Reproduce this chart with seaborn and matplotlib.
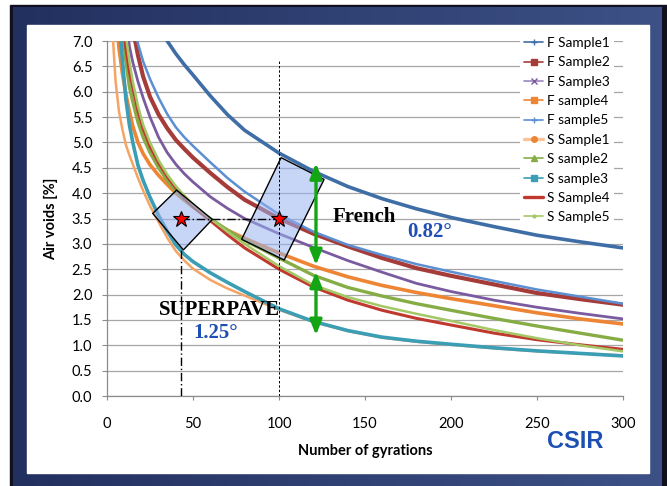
import numpy as np
import pandas as pd
import matplotlib
matplotlib.use('Agg')
import matplotlib.pyplot as plt
import seaborn as sns
from matplotlib.lines import Line2D
from matplotlib.patches import Polygon, Rectangle
from matplotlib.colors import LinearSegmentedColormap

# ---------------- data ----------------
gyrations = [3, 5, 7, 9, 11, 13, 15, 18, 21, 25, 30, 35, 40, 45, 50, 60, 70, 80,
             100, 120, 140, 160, 180, 200, 225, 250, 275, 300]

f_sample1 = [15, 13, 12, 11, 10.5, 10, 9.5, 9, 8.5, 7.9, 7.45, 7.0, 6.75, 6.53, 6.33, 5.92, 5.55, 5.24,
             4.79, 4.43, 4.13, 3.89, 3.69, 3.52, 3.34, 3.17, 3.04, 2.92]
f_sample2 = [14, 12, 10.5, 9.3, 8.5, 7.8, 7.25, 6.72, 6.3, 5.9, 5.55, 5.28, 5.05, 4.87, 4.7, 4.4, 4.12, 3.87,
             3.5, 3.2, 2.95, 2.72, 2.52, 2.37, 2.2, 2.03, 1.91, 1.80]
f_sample3 = [12, 10.2, 9, 8.1, 7.45, 6.9, 6.58, 6.2, 5.88, 5.5, 5.1, 4.8, 4.57, 4.38, 4.22, 3.93, 3.7, 3.5,
             3.2, 2.93, 2.67, 2.44, 2.22, 2.06, 1.89, 1.75, 1.63, 1.52]
f_sample4 = [9.5, 7.6, 6.85, 6.35, 5.95, 5.62, 5.32, 5.0, 4.78, 4.56, 4.35, 4.17, 4.0, 3.86, 3.73, 3.47, 3.27, 3.11,
             2.82, 2.56, 2.35, 2.18, 2.04, 1.92, 1.78, 1.64, 1.52, 1.42]
f_sample5 = [14, 12, 10.5, 9.5, 8.7, 8.1, 7.5, 6.95, 6.6, 6.25, 5.88, 5.56, 5.3, 5.1, 4.93, 4.61, 4.3, 4.03,
             3.58, 3.24, 2.98, 2.78, 2.6, 2.45, 2.27, 2.1, 1.96, 1.82]
s_sample1 = [7.3, 6.2, 5.6, 5.25, 4.95, 4.75, 4.57, 4.3, 4.05, 3.75, 3.43, 3.12, 2.86, 2.67, 2.51, 2.29, 2.12, 1.98,
             1.70, 1.46, 1.28, 1.15, 1.07, 1.01, 0.94, 0.88, 0.84, 0.80]
s_sample2 = [11, 9.2, 8.1, 7.25, 6.6, 6.1, 5.8, 5.4, 5.1, 4.8, 4.5, 4.25, 4.04, 3.87, 3.73, 3.5, 3.27, 3.07,
             2.72, 2.38, 2.14, 1.97, 1.82, 1.69, 1.53, 1.38, 1.24, 1.10]
s_sample3 = [10.5, 8.8, 7.5, 6.6, 5.85, 5.35, 5.0, 4.55, 4.25, 3.92, 3.56, 3.25, 2.98, 2.79, 2.65, 2.43, 2.24, 2.06,
             1.72, 1.47, 1.29, 1.16, 1.08, 1.02, 0.95, 0.89, 0.84, 0.79]
s_sample4 = [11.5, 9.6, 8.4, 7.5, 6.85, 6.4, 6.08, 5.62, 5.27, 4.92, 4.6, 4.33, 4.1, 3.9, 3.74, 3.46, 3.18, 2.92,
             2.5, 2.15, 1.89, 1.69, 1.53, 1.4, 1.24, 1.11, 1.01, 0.92]
s_sample5 = [12, 10, 8.7, 7.8, 7.1, 6.6, 6.2, 5.72, 5.35, 5.0, 4.65, 4.37, 4.14, 3.95, 3.78, 3.5, 3.24, 3.0,
             2.56, 2.19, 1.95, 1.77, 1.62, 1.48, 1.3, 1.14, 1.0, 0.88]

series_names = ['F Sample1', 'F Sample2', 'F Sample3', 'F sample4', 'F sample5',
                'S Sample1', 'S sample2', 'S sample3', 'S Sample4', 'S Sample5']
series_values = [f_sample1, f_sample2, f_sample3, f_sample4, f_sample5,
                 s_sample1, s_sample2, s_sample3, s_sample4, s_sample5]

x_ticks = [0, 50, 100, 150, 200, 250, 300]
y_ticks = [0.0, 0.5, 1.0, 1.5, 2.0, 2.5, 3.0, 3.5, 4.0, 4.5, 5.0, 5.5, 6.0, 6.5, 7.0]

# annotation geometry (data units)
superpave_box_n = [26.6, 40.5, 61.2, 44.4]
superpave_box_v = [3.60, 4.06, 3.48, 2.88]
french_box_n = [78.3, 101.2, 126.2, 103.0]
french_box_v = [3.09, 4.70, 4.27, 2.68]
star_n = [43, 100]
star_v = [3.5, 3.5]
arrow_n = 121.5
arrow_spans = [(4.59, 2.58), (2.45, 1.20)]

# ---------------- styles ----------------
colors = ['#3F6EA6', '#A63C3A', '#7B5BA0', '#EE8535', '#5B8FD1',
          '#F5A463', '#86AD45', '#3B9EB5', '#C0392F', '#A5C866']
widths = [2.6, 3.0, 2.0, 2.6, 1.8, 1.8, 2.4, 2.6, 2.2, 1.8]
leg_markers = ['+', 's', 'x', 's', '+', 'o', '^', 's', None, '.']
leg_mcolors = ['#3F6EA6', '#A63C3A', '#7B5BA0', '#EE8535', '#5B8FD1',
               '#EE8535', '#86AD45', '#3B9EB5', '#C0392F', '#A5C866']
leg_lcolors = ['#3F6EA6', '#A63C3A', '#9C86BC', '#EE8535', '#5B8FD1',
               '#F9C49A', '#86AD45', '#3B9EB5', '#C0392F', '#A5C866']
leg_lw = [1.2, 1.2, 1.2, 1.2, 1.2, 2.4, 1.2, 1.2, 2.4, 1.2]

sns.set_theme(style='white')
plt.rcParams['font.family'] = ['Lato', 'DejaVu Sans']

W, H = 667, 486
fig = plt.figure(figsize=(W / 100, H / 100), dpi=100, facecolor='white')


def fx(px):
    return px / W


def fy(py):
    return 1 - py / H


# background frame (slide look)
bg = fig.add_axes([0, 0, 1, 1], zorder=-5)
bg.axis('off')
bg.add_patch(Rectangle((10, 5), W - 10, H - 5, color='#101020', zorder=0))
grad = np.linspace(0, 1, 256).reshape(1, -1)
cmap = LinearSegmentedColormap.from_list('navy', ['#22305F', '#3D5186'])
bg.imshow(grad, extent=(13, 662, H, 8), cmap=cmap, aspect='auto', zorder=1)
bg.add_patch(Rectangle((27, 25), 649 - 27, 473 - 25, color='white', zorder=2))
bg.set_xlim(0, W)
bg.set_ylim(H, 0)

ax = fig.add_axes([fx(107), fy(396), (623 - 107) / W, (396 - 41) / H])
ax.set_facecolor('white')

df = pd.DataFrame({'N': gyrations})
for name, vals in zip(series_names, series_values):
    df[name] = vals

for name, c, lw in zip(series_names, colors, widths):
    sns.lineplot(data=df, x='N', y=name, ax=ax, color=c, linewidth=lw,
                 legend=False, zorder=3)

# boxes
ax.add_patch(Polygon(np.column_stack([superpave_box_n, superpave_box_v]), closed=True,
                     facecolor=(0.60, 0.70, 0.95, 0.55), edgecolor='black', lw=1.0, zorder=5))
ax.add_patch(Polygon(np.column_stack([french_box_n, french_box_v]), closed=True,
                     facecolor=(0.60, 0.70, 0.95, 0.55), edgecolor='black', lw=1.0, zorder=5))

# guide lines
ax.plot([star_n[0], star_n[0]], [0, superpave_box_v[3]], color='black', lw=1.0,
        ls=(0, (6, 2, 1, 2)), zorder=6)
ax.plot(star_n, star_v, color='black', lw=1.0, ls=(0, (6, 2, 1, 2)), zorder=6)
ax.plot([star_n[1], star_n[1]], [0, 6.6], color='black', lw=0.7, ls=(0, (2.5, 2)), zorder=6)

# stars
ax.plot(star_n, star_v, marker='*', ms=12, mfc='#FF0000', mec='black', mew=0.8,
        ls='none', zorder=7)

# green arrows
for v0, v1 in arrow_spans:
    ax.annotate('', xy=(arrow_n, v1), xytext=(arrow_n, v0),
                arrowprops=dict(arrowstyle='<|-|>,head_length=0.9,head_width=0.36',
                                color='#14A514', lw=2.4, shrinkA=0, shrinkB=0,
                                mutation_scale=10), zorder=8)

serif = ['Liberation Serif', 'DejaVu Serif']
ax.text(131.4, 3.43, 'French', family=serif, fontsize=15, fontweight='bold',
        color='black', va='baseline', ha='left', zorder=9)
ax.text(174.4, 3.14, '0.82°', family=serif, fontsize=15, fontweight='bold',
        color='#1F4FB5', va='baseline', ha='left', zorder=9)
ax.text(30.2, 1.60, 'SUPERPAVE', family=serif, fontsize=15, fontweight='bold',
        color='black', va='baseline', ha='left', zorder=9)
ax.text(50.0, 1.14, '1.25°', family=serif, fontsize=15, fontweight='bold',
        color='#1F4FB5', va='baseline', ha='left', zorder=9)

# axes styling
ax.set_xlim(0, 300)
ax.set_ylim(0, 7)
ax.set_xticks(x_ticks)
ax.set_xticklabels([str(t) for t in x_ticks])
ax.set_yticks(y_ticks)
ax.set_yticklabels([f'{t:.1f}' for t in y_ticks])
ax.yaxis.grid(True, color='#A6A6A6', lw=0.9)
ax.xaxis.grid(False)
ax.set_axisbelow(True)
for s in ['top', 'right']:
    ax.spines[s].set_visible(False)
for s in ['left', 'bottom']:
    ax.spines[s].set_color('#8C8C8C')
    ax.spines[s].set_linewidth(0.9)
ax.tick_params(axis='x', bottom=True, length=3, width=0.8, color='#8C8C8C', pad=12,
               labelsize=10.5, labelcolor='black')
ax.tick_params(axis='y', left=True, length=3.5, width=0.8, color='#8C8C8C', pad=7,
               labelsize=10.5, labelcolor='black')

ax.set_xlabel('Number of gyrations', fontsize=10.5, fontweight='bold', color='black')
ax.set_ylabel('Air voids [%]', fontsize=10.5, fontweight='bold', color='black')
ax.xaxis.set_label_coords(0.5, -0.135)
ax.yaxis.set_label_coords(-0.095, 0.5)

handles = []
for lc, lw, m, mc in zip(leg_lcolors, leg_lw, leg_markers, leg_mcolors):
    handles.append(Line2D([0], [0], color=lc, lw=lw, marker=m, ms=4, mfc=mc, mec=mc, mew=1.0))
leg = ax.legend(handles, series_names, loc='upper left',
                bbox_to_anchor=(fx(520), fy(33)), bbox_transform=fig.transFigure,
                frameon=True, facecolor='white', edgecolor='none', framealpha=1,
                fontsize=9.8, handlelength=1.4, handletextpad=0.25, labelspacing=0.54,
                borderpad=0.3, borderaxespad=0)
leg.set_zorder(10)
for t in leg.get_texts():
    t.set_color('black')

fig.text(fx(575), fy(441), 'CSIR', ha='center', va='center', fontsize=17,
         fontweight='bold', family=['Liberation Sans', 'DejaVu Sans'], color='#1D4FB3')

fig.savefig('out.png', dpi=100, facecolor=fig.get_facecolor())
